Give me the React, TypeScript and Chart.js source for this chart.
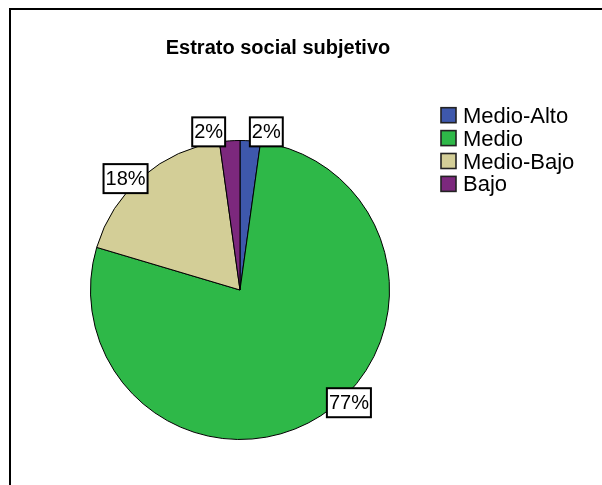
import React, { useEffect, useRef } from "react";
import { Chart, registerables } from "chart.js";

Chart.register(...registerables);

const categories = ["Medio-Alto", "Medio", "Medio-Bajo", "Bajo"];
const percentages = [2.2, 77.4, 18.2, 2.2];
const colors = ["#3E58AC", "#2EB848", "#D3CE97", "#7C287D"];
const titleText = "Estrato social subjetivo";
// label box centre offsets relative to the slice's outer edge at mid-angle (px)
const labelOffsets: [number, number][] = [
  [16, -9],
  [28, -13],
  [-17, 2],
  [-21, -9],
];

const FONT = "'Liberation Sans', Arial, sans-serif";

const framePlugin = {
  id: "frame",
  beforeDraw(chart: any) {
    const ctx = chart.ctx;
    ctx.save();
    ctx.fillStyle = "#ffffff";
    ctx.fillRect(0, 0, chart.width, chart.height);
    ctx.fillStyle = "#000000";
    ctx.fillRect(9, 8, chart.width - 9, 2);
    ctx.fillRect(9, 8, 2, chart.height - 8);
    ctx.restore();
  },
};

const titlePlugin = {
  id: "customTitle",
  afterDraw(chart: any) {
    const ctx = chart.ctx;
    ctx.save();
    ctx.font = `bold 20px ${FONT}`;
    ctx.fillStyle = "#000";
    ctx.textAlign = "center";
    ctx.textBaseline = "alphabetic";
    ctx.fillText(titleText, 278, 54);
    ctx.restore();
  },
};

const legendPlugin = {
  id: "customLegend",
  afterDraw(chart: any) {
    const ctx = chart.ctx;
    const labels = chart.data.labels as string[];
    const bg = chart.data.datasets[0].backgroundColor as string[];
    ctx.save();
    ctx.font = `22px ${FONT}`;
    ctx.textAlign = "left";
    ctx.textBaseline = "alphabetic";
    labels.forEach((lab, i) => {
      const baseline = 122.7 + i * 22.9;
      const top = baseline - 15;
      ctx.fillStyle = bg[i];
      ctx.fillRect(441, top, 15, 15);
      ctx.strokeStyle = "#222";
      ctx.lineWidth = 1.6;
      ctx.strokeRect(441, top, 15, 15);
      ctx.fillStyle = "#000";
      ctx.fillText(lab, 463, baseline);
    });
    ctx.restore();
  },
};

const labelPlugin = {
  id: "pctLabels",
  afterDatasetsDraw(chart: any) {
    const ctx = chart.ctx;
    const meta = chart.getDatasetMeta(0);
    const data = chart.data.datasets[0].data as number[];
    const total = data.reduce((a, b) => a + b, 0);
    ctx.save();
    ctx.font = `20px ${FONT}`;
    ctx.textAlign = "center";
    ctx.textBaseline = "middle";
    meta.data.forEach((arc: any, i: number) => {
      const p = arc.getProps(["x", "y", "startAngle", "endAngle", "outerRadius"], true);
      const mid = (p.startAngle + p.endAngle) / 2;
      const ax = p.x + p.outerRadius * Math.cos(mid);
      const ay = p.y + p.outerRadius * Math.sin(mid);
      const [dx, dy] = labelOffsets[i] || [0, 0];
      const cx = ax + dx;
      const cy = ay + dy;
      const txt = Math.round((data[i] / total) * 100) + "%";
      const w = ctx.measureText(txt).width + 4;
      const h = 29;
      ctx.fillStyle = "#fff";
      ctx.fillRect(cx - w / 2, cy - h / 2, w, h);
      ctx.strokeStyle = "#000";
      ctx.lineWidth = 2;
      ctx.strokeRect(cx - w / 2, cy - h / 2, w, h);
      ctx.fillStyle = "#000";
      ctx.fillText(txt, cx, cy + 1);
    });
    ctx.restore();
  },
};

export default function App() {
  const ref = useRef<HTMLCanvasElement | null>(null);
  useEffect(() => {
    document.body.style.margin = "0";
    if (!ref.current) return;
    const chart = new Chart(ref.current, {
      type: "pie",
      data: {
        labels: categories,
        datasets: [
          {
            data: percentages,
            backgroundColor: colors,
            borderColor: "#000",
            borderWidth: 1,
            hoverOffset: 0,
          },
        ],
      },
      options: {
        responsive: false,
        animation: false,
        layout: { padding: { left: 90, right: 212, top: 140, bottom: 45 } },
        plugins: {
          legend: { display: false },
          title: { display: false },
          tooltip: { enabled: false },
        },
        events: [],
      },
      plugins: [framePlugin, labelPlugin, titlePlugin, legendPlugin],
    });
    return () => chart.destroy();
  }, []);
  return (
    <div style={{ width: 602, height: 485 }}>
      <canvas ref={ref} width={602} height={485} style={{ display: "block" }} />
    </div>
  );
}
